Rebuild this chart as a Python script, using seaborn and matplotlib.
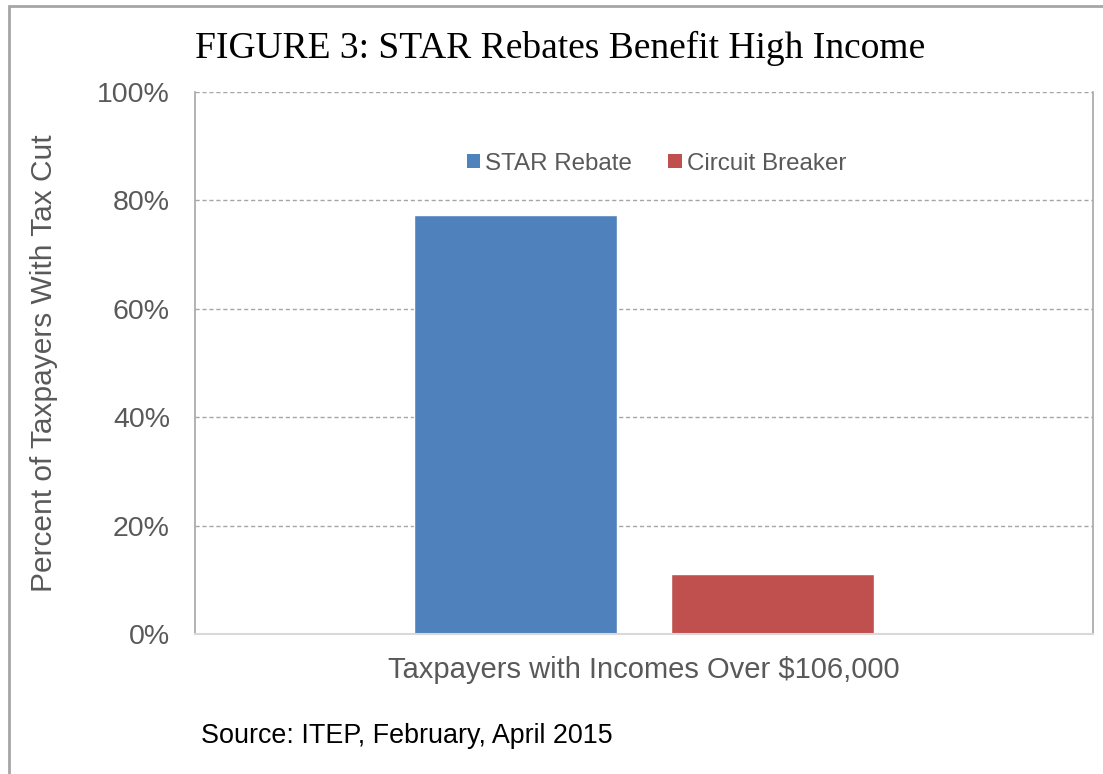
import matplotlib
matplotlib.use("Agg")
import matplotlib.pyplot as plt
import seaborn as sns
import pandas as pd
from matplotlib.patches import Rectangle, Patch

categories = ["Taxpayers with Incomes Over $106,000"]
series = ["STAR Rebate", "Circuit Breaker"]
values = [77.3, 11]
colors = ["#4F81BD", "#C0504D"]
yticks = [0, 20, 40, 60, 80, 100]
ytick_labels = ["0%", "20%", "40%", "60%", "80%", "100%"]

df = pd.DataFrame({"cat": categories * len(series), "series": series, "value": values})

sns.set_theme(style="white")
plt.rcParams['font.family'] = ['Liberation Sans', 'DejaVu Sans']

fig = plt.figure(figsize=(11.03, 7.74), dpi=100)
ax = fig.add_axes([195/1103, 1-634/774, (1093-195)/1103, (634-92)/774])

sns.barplot(data=df, x="cat", y="value", hue="series", palette=colors,
            width=0.5724, gap=0.21, saturation=1, ax=ax, legend=False)

ax.set_xlim(-0.5, 0.5)
ax.set_ylim(0, 100)
ax.set_yticks(yticks)
ax.set_yticklabels(ytick_labels, fontsize=20.5, color="#595959")
ax.tick_params(axis="x", labelsize=21, labelcolor="#595959", length=0, pad=16)
ax.tick_params(axis="y", length=0, pad=18)
ax.set_xlabel("")
ax.set_ylabel("Percent of Taxpayers With Tax Cut", fontsize=21.5, color="#595959", labelpad=28)

for y in yticks[1:]:
    ax.axhline(y, color="#A6A6A6", lw=1, ls=(0, (3, 2)), zorder=0)
ax.set_axisbelow(True)

for side in ["left", "right"]:
    ax.spines[side].set_color("#A6A6A6")
    ax.spines[side].set_linewidth(1.2)
ax.spines["bottom"].set_color("#D9D9D9")
ax.spines["bottom"].set_linewidth(1.5)
ax.spines["top"].set_visible(False)

handles = [Patch(facecolor=c, edgecolor="none") for c in colors]
ax.legend(handles, series, loc="center", bbox_to_anchor=(0.514, 0.868), ncol=2,
          frameon=False, fontsize=17.4, labelcolor="#595959",
          handlelength=0.55, handleheight=0.55, handletextpad=0.22, columnspacing=1.5)

fig.text(195/1103, 1-48/774, "FIGURE 3: STAR Rebates Benefit High Income",
         family="Liberation Serif", fontsize=27, color="black", va="center", ha="left")
fig.text(201/1103, 1-736/774, "Source: ITEP, February, April 2015",
         fontsize=19.4, color="black", va="center", ha="left")

fig.patches.append(Rectangle((8.5/1103, -0.1), 1.2, 1 - 5.5/774 + 0.1,
                             transform=fig.transFigure, fill=False,
                             edgecolor="#A6A6A6", lw=2))

fig.savefig("out.png", dpi=100)
